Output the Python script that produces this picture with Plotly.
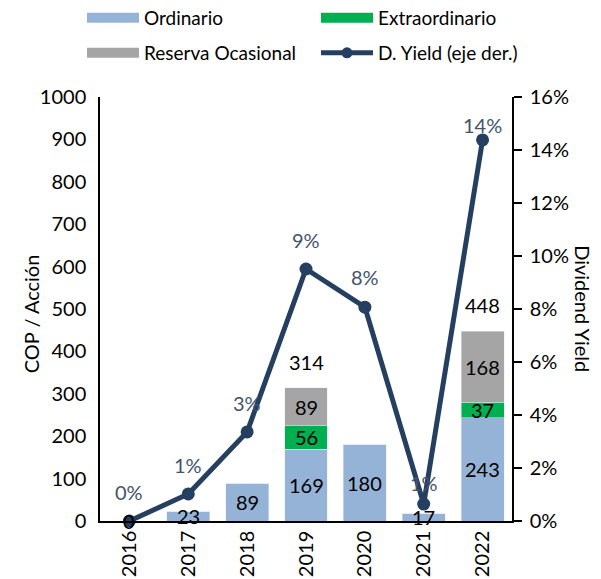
import plotly.graph_objects as go

years = ["2016", "2017", "2018", "2019", "2020", "2021", "2022"]
ordinario = [0, 23, 89, 169, 180, 17, 243]
extraordinario = [0, 0, 0, 56, 0, 0, 37]
reserva = [0, 0, 0, 89, 0, 0, 168]
dyield = [0.0, 0.0102, 0.0336, 0.0951, 0.0807, 0.0064, 0.1438]
yield_labels = ["0%", "1%", "3%", "9%", "8%", "1%", "14%"]

C_ORD = "#95B3D7"
C_EXT = "#00B050"
C_RES = "#A5A5A5"
C_LINE = "#243F60"
C_YLAB = "#44546A"
FONT = "Lato"
FS = 20

# label offsets (pixels above the yield points)
yield_label_shift = [29, 29, 29, 29, 30, 21, 15]

xpos = list(range(len(years)))

fig = go.Figure()
fig.add_trace(go.Bar(x=xpos, y=ordinario, marker_color=C_ORD, showlegend=False, yaxis="y"))
fig.add_trace(go.Bar(x=xpos, y=extraordinario, marker_color=C_EXT, showlegend=False, yaxis="y"))
fig.add_trace(go.Bar(x=xpos, y=reserva, marker_color=C_RES, showlegend=False, yaxis="y"))
fig.add_trace(go.Scatter(x=xpos, y=dyield, yaxis="y2", mode="lines+markers",
                         line=dict(color=C_LINE, width=5),
                         marker=dict(color=C_LINE, size=13),
                         cliponaxis=False, showlegend=False))

# legend-only entries
leg_items = [
    ("Ordinario", C_ORD, "lines", "legend"),
    ("Extraordinario", C_EXT, "lines", "legend2"),
    ("Reserva Ocasional", C_RES, "lines", "legend3"),
    ("D. Yield (eje der.)", C_LINE, "lines+markers", "legend4"),
]
for name, col, mode, lg in leg_items:
    fig.add_trace(go.Scatter(x=[None], y=[None], mode=mode,
                             line=dict(color=col, width=13 if mode == "lines" else 5),
                             marker=dict(color=col, size=11),
                             name=name, legend=lg))

ann = []
lab_font = dict(family=FONT, size=FS, color="black")
for i in xpos:
    o, e, r = ordinario[i], extraordinario[i], reserva[i]
    ann.append(dict(x=i, y=o / 2, yref="y", text=str(o), showarrow=False, font=lab_font))
    if e:
        ann.append(dict(x=i, y=o + e / 2, yref="y", text=str(e), showarrow=False, font=lab_font))
    if r:
        ann.append(dict(x=i, y=o + e + r / 2, yref="y", text=str(r), showarrow=False, font=lab_font))
    if e or r:
        ann.append(dict(x=i, y=o + e + r, yref="y", text=str(o + e + r), showarrow=False,
                        font=lab_font, yshift=26))
    ann.append(dict(x=i, y=dyield[i], yref="y2", text=yield_labels[i], showarrow=False,
                    font=dict(family=FONT, size=FS, color=C_YLAB), yshift=yield_label_shift[i]))

ann.append(dict(x=-0.167, y=0.488, xref="paper", yref="paper", text="COP / Acción", textangle=-90,
                xanchor="center", yanchor="middle",
                showarrow=False, font=dict(family=FONT, size=20, color="black")))
ann.append(dict(x=1.172, y=0.50, xref="paper", yref="paper", text="Dividend Yield", textangle=90,
                xanchor="center", yanchor="middle",
                showarrow=False, font=dict(family=FONT, size=20, color="black")))

legend_common = dict(orientation="v", yref="container", yanchor="middle", xanchor="left",
                     itemwidth=52, font=dict(family=FONT, size=19), bgcolor="rgba(0,0,0,0)")
x1 = (82 - 100) / 412
x2 = (316 - 100) / 412
y1 = 1 - 18 / 579
y2 = 1 - 53 / 579

fig.update_layout(
    width=601, height=579,
    margin=dict(l=100, r=89, t=97, b=58, autoexpand=False),
    paper_bgcolor="white", plot_bgcolor="white",
    barmode="stack", bargap=0.27,
    font=dict(family=FONT, size=FS, color="black"),
    annotations=ann,
    xaxis=dict(type="linear", range=[-0.5, len(years) - 0.5], tickmode="array",
               tickvals=xpos, ticktext=years, showline=True, linecolor="black",
               linewidth=1.5, ticks="", tickangle=-90, tickfont=dict(size=FS),
               showgrid=False, zeroline=False, automargin=False),
    yaxis=dict(range=[0, 1000], dtick=100, showline=True, linecolor="black", linewidth=1.5,
               ticks="", showgrid=False, zeroline=False, ticklabelstandoff=8,
               tickfont=dict(size=FS), automargin=False),
    yaxis2=dict(range=[0, 0.16], dtick=0.02, tickformat=".0%", overlaying="y", side="right",
                showline=True, linecolor="black", linewidth=1.5, ticks="outside", ticklen=8,
                tickcolor="black", tickwidth=1.5, showgrid=False, zeroline=False,
                tickfont=dict(size=FS), ticklabelstandoff=4, automargin=False),
    legend=dict(x=x1, y=y1, **legend_common),
    legend2=dict(x=x2, y=y1, **legend_common),
    legend3=dict(x=x1, y=y2, **legend_common),
    legend4=dict(x=x2, y=y2, **legend_common),
)

fig.write_html("out.html", config={"displayModeBar": False},
               post_script="document.body.style.margin='0px';")
